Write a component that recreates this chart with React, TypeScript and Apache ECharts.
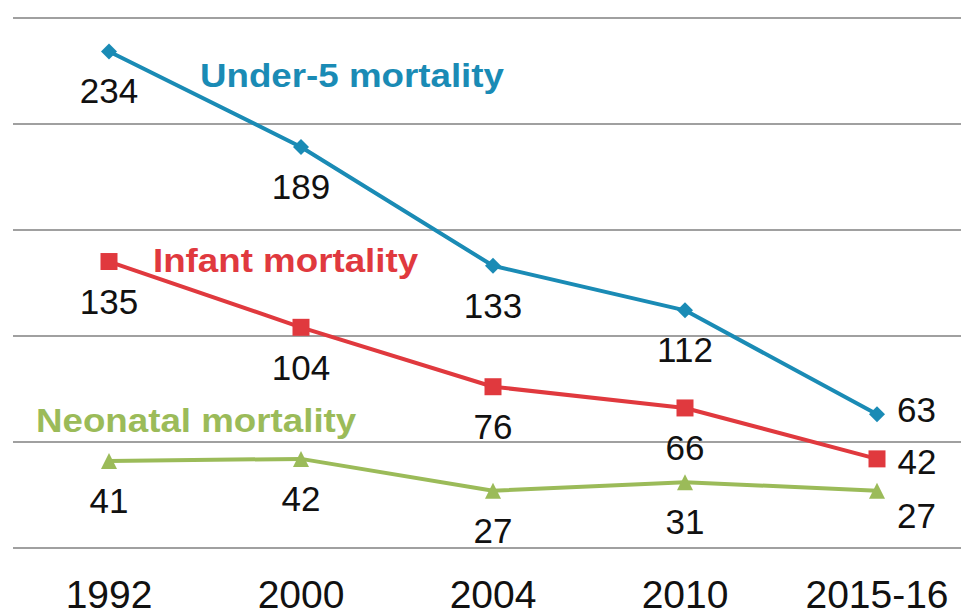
import React, { useEffect, useRef } from "react";
import * as echarts from "echarts";

const categories = ["1992", "2000", "2004", "2010", "2015-16"];
const under5 = [234, 189, 133, 112, 63];
const infant = [135, 104, 76, 66, 42];
const neonatal = [41, 42, 27, 31, 27];
const seriesNames = ["Under-5 mortality", "Infant mortality", "Neonatal mortality"];

const BLUE = "#1a8bb5";
const RED = "#e0393e";
const GREEN = "#9bbb59";
const FONT = "'Liberation Sans', Arial, sans-serif";
const TXT = "#111111";

function withLastLabel(arr: number[], offset: number[]) {
  return arr.map((v, i) =>
    i === arr.length - 1
      ? { value: v, label: { position: "right", distance: 12, offset } }
      : v
  );
}

export default function App() {
  const ref = useRef<HTMLDivElement>(null);
  useEffect(() => {
    if (!ref.current) return;
    document.body.style.overflow = "hidden";
    const chart = echarts.init(ref.current, undefined, { renderer: "svg" });
    const baseLabel = {
      show: true,
      position: "bottom",
      distance: 14,
      fontSize: 35,
      fontFamily: FONT,
      color: TXT,
    };
    const nameText = (text: string, x: number, y: number, fill: string) => ({
      type: "text",
      x,
      y,
      scaleX: 1.08,
      style: {
        text,
        font: `bold 34px ${FONT}`,
        fill,
        verticalAlign: "middle",
        align: "left",
      },
    });
    chart.setOption({
      animation: false,
      grid: { left: 13, right: 0, top: 17.5, height: 530.8, containLabel: false },
      xAxis: {
        type: "category",
        data: categories,
        boundaryGap: true,
        axisLine: { show: false },
        axisTick: { show: false },
        axisLabel: { fontSize: 39, fontFamily: FONT, color: TXT, margin: 27 },
      },
      yAxis: {
        type: "value",
        min: 0,
        max: 250,
        interval: 50,
        axisLabel: { show: false },
        axisLine: { show: false },
        axisTick: { show: false },
        splitLine: { show: true, lineStyle: { color: "#a0a0a0", width: 2 } },
      },
      series: [
        {
          name: seriesNames[0],
          type: "line",
          data: withLastLabel(under5, [0, -5]),
          symbol: "diamond",
          symbolSize: 16,
          itemStyle: { color: BLUE },
          lineStyle: { color: BLUE, width: 4 },
          label: baseLabel,
        },
        {
          name: seriesNames[1],
          type: "line",
          data: withLastLabel(infant, [0, 3]),
          symbol: "rect",
          symbolSize: 17,
          itemStyle: { color: RED },
          lineStyle: { color: RED, width: 4 },
          label: baseLabel,
        },
        {
          name: seriesNames[2],
          type: "line",
          data: withLastLabel(neonatal, [0, 25]),
          symbol: "triangle",
          symbolSize: 16,
          itemStyle: { color: GREEN },
          lineStyle: { color: GREEN, width: 4 },
          label: baseLabel,
        },
      ],
      graphic: [
        nameText(seriesNames[0], 200, 75, BLUE),
        nameText(seriesNames[1], 153, 260, RED),
        nameText(seriesNames[2], 36, 420, GREEN),
      ],
    });
    return () => chart.dispose();
  }, []);
  return (
    <div
      ref={ref}
      style={{ position: "fixed", left: 0, top: 0, width: 973, height: 614, background: "#fff" }}
    />
  );
}
